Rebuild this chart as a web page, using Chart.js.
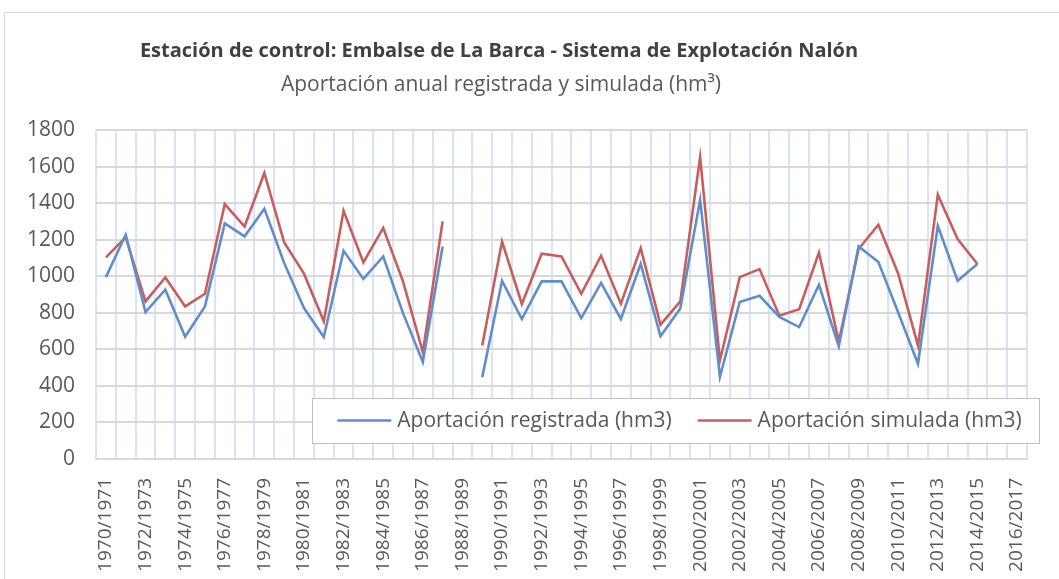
<!DOCTYPE html>
<html>
<head>
<meta charset="utf-8">
<script src="https://cdn.jsdelivr.net/npm/chart.js@4.4.1/dist/chart.umd.min.js"></script>
<style>
    html, body { margin: 0; padding: 0; background: #fff; }
    #wrap { position: relative; width: 1059px; height: 579px; overflow: hidden; }
    #frame { position: absolute; left: 4px; top: 12px; width: 1100px; height: 600px; border: 1px solid #d9d9d9; }
    canvas { position: absolute; left: 0; top: 0; }
</style>
</head>
<body>
<div id="wrap">
    <div id="frame"></div>
    <canvas id="myChart" width="1059" height="579"></canvas>
</div>
<script>
const chartTitle = 'Estación de control: Embalse de La Barca - Sistema de Explotación Nalón';
const chartSubtitle = 'Aportación anual registrada y simulada (hm³)';

const years = [
    '1970/1971', '1971/1972', '1972/1973', '1973/1974', '1974/1975', '1975/1976', '1976/1977', '1977/1978',
    '1978/1979', '1979/1980', '1980/1981', '1981/1982', '1982/1983', '1983/1984', '1984/1985', '1985/1986',
    '1986/1987', '1987/1988', '1988/1989', '1989/1990', '1990/1991', '1991/1992', '1992/1993', '1993/1994',
    '1994/1995', '1995/1996', '1996/1997', '1997/1998', '1998/1999', '1999/2000', '2000/2001', '2001/2002',
    '2002/2003', '2003/2004', '2004/2005', '2005/2006', '2006/2007', '2007/2008', '2008/2009', '2009/2010',
    '2010/2011', '2011/2012', '2012/2013', '2013/2014', '2014/2015', '2015/2016', '2016/2017'
];

const registrada = [
    995, 1227, 804, 926, 669, 835, 1289, 1218, 1369, 1072, 826, 667, 1139, 985, 1108, 798,
    531, 1163, null, 448, 975, 766, 972, 972, 771, 963, 766, 1068, 671, 824, 1418, 449,
    859, 893, 777, 722, 953, 616, 1163, 1078, 802, 521, 1276, 975, 1067, null, null
];

const simulada = [
    1103, 1214, 862, 993, 835, 904, 1395, 1272, 1565, 1185, 1014, 753, 1358, 1075, 1264, 972,
    585, 1300, null, 621, 1190, 848, 1123, 1108, 904, 1112, 850, 1154, 735, 862, 1652, 539,
    995, 1039, 784, 820, 1130, 643, 1149, 1282, 1014, 620, 1446, 1203, 1067, null, null
];

const seriesNames = ['Aportación registrada (hm3)', 'Aportación simulada (hm3)'];
const yTicks = { min: 0, max: 1800, step: 200 };

const textColor = '#595959';
const blue = 'rgb(96, 141, 203)';
const red = 'rgb(201, 93, 93)';

// titles drawn over the canvas, Excel centres them a bit left of the plot
const titlePlugin = {
    id: 'excelTitle',
    afterDraw(chart) {
        const c = chart.ctx;
        c.save();
        c.textAlign = 'center';
        c.textBaseline = 'middle';
        c.fillStyle = '#404040';
        c.font = 'bold 20px "Open Sans"';
        c.fillText(chartTitle, 499, 51);
        c.fillStyle = textColor;
        c.font = '21px "Open Sans"';
        c.fillText(chartSubtitle, 501, 85);
        c.restore();
    }
};

// legend box sitting inside the plot area, bottom right
const legendPlugin = {
    id: 'insideLegend',
    afterDatasetsDraw(chart) {
        const c = chart.ctx;
        const box = { left: 312, top: 398, right: 1039, bottom: 443 };
        const lineLen = 54;
        const gap = 6;
        const itemGap = 26;
        c.save();
        c.font = '21px "Open Sans"';
        c.fillStyle = '#fff';
        c.fillRect(box.left, box.top, box.right - box.left, box.bottom - box.top);
        c.strokeStyle = '#bfbfbf';
        c.lineWidth = 1;
        c.strokeRect(box.left + 0.5, box.top + 0.5, box.right - box.left, box.bottom - box.top);

        const items = chart.data.datasets.map(ds => ({
            label: ds.label,
            color: ds.borderColor,
            width: lineLen + gap + c.measureText(ds.label).width
        }));
        const total = items.reduce((s, it) => s + it.width, 0) + itemGap * (items.length - 1);
        let x = box.left + (box.right - box.left - total) / 2 + 4;
        const y = (box.top + box.bottom) / 2;
        c.textBaseline = 'middle';
        c.textAlign = 'left';
        items.forEach((it) => {
            c.strokeStyle = it.color;
            c.lineWidth = 2.5;
            c.beginPath();
            c.moveTo(x, y);
            c.lineTo(x + lineLen, y);
            c.stroke();
            c.fillStyle = textColor;
            c.fillText(it.label, x + lineLen + gap, y + 1);
            x += it.width + itemGap;
        });
        c.restore();
    }
};

const ctx = document.getElementById('myChart');

const data = {
    labels: years,
    datasets: [
        {
            label: seriesNames[0],
            data: registrada,
            borderColor: blue,
            backgroundColor: blue,
            borderWidth: 2.6,
            spanGaps: false,
            tension: 0
        },
        {
            label: seriesNames[1],
            data: simulada,
            borderColor: red,
            backgroundColor: red,
            borderWidth: 2.6,
            spanGaps: false,
            tension: 0
        }
    ]
};

const options = {
    responsive: false,
    animation: false,
    layout: {
        padding: { top: 130, right: 16, bottom: 0, left: 0 }
    },
    plugins: {
        legend: { display: false },
        title: { display: false },
        tooltip: { enabled: false }
    },
    elements: {
        point: { radius: 0, hitRadius: 0 },
        line: { borderCapStyle: 'butt', borderJoinStyle: 'miter' }
    },
    scales: {
        x: {
            offset: true,
            grid: {
                offset: true,
                color: '#dae3f3',
                lineWidth: 2,
                drawTicks: false
            },
            border: { display: true, color: '#d9d9d9', width: 2 },
            ticks: {
                autoSkip: false,
                maxRotation: 90,
                minRotation: 90,
                padding: 19,
                color: textColor,
                font: { family: 'Open Sans', size: 19 },
                callback: function (val, index) {
                    return index % 2 === 0 ? this.getLabelForValue(val) : '';
                }
            },
            afterFit: (scale) => { scale.height = 120; }
        },
        y: {
            min: yTicks.min,
            max: yTicks.max,
            grid: {
                color: '#d9d9d9',
                lineWidth: 2,
                drawTicks: false
            },
            border: { display: false },
            ticks: {
                stepSize: yTicks.step,
                padding: 21,
                color: textColor,
                font: { family: 'Open Sans', size: 21 },
                callback: (val) => String(val)
            },
            afterFit: (scale) => { scale.width = 96; }
        }
    }
};

new Chart(ctx, {
    type: 'line',
    data: data,
    options: options,
    plugins: [titlePlugin, legendPlugin]
});
</script>
</body>
</html>
